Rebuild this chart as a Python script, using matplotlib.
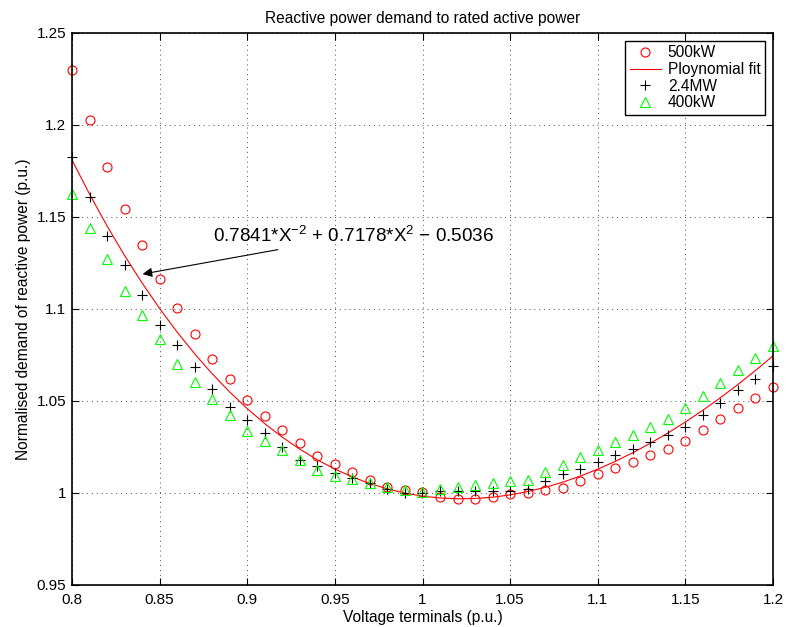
import numpy as np
import matplotlib
matplotlib.use('Agg')
import matplotlib.pyplot as plt
from matplotlib.ticker import FormatStrFormatter

plt.rcParams['font.family'] = ['Liberation Sans', 'DejaVu Sans']
plt.rcParams['mathtext.fontset'] = 'custom'
plt.rcParams['mathtext.rm'] = 'Liberation Sans'

# voltage at terminals (p.u.), 0.80 .. 1.20 in steps of 0.01
voltage = np.round(np.arange(0.80, 1.2001, 0.01), 2)

# 500kW machine (red circles)
q_500kw = [1.2300, 1.2025, 1.1772, 1.1545, 1.1348, 1.1163, 1.1005, 1.0863, 1.0727, 1.0618,
           1.0508, 1.0418, 1.0342, 1.0270, 1.0200, 1.0155, 1.0116, 1.0070, 1.0035, 1.0017,
           1.0004, 0.9980, 0.9967, 0.9969, 0.9980, 0.9992, 1.0000, 1.0014, 1.0029, 1.0063,
           1.0101, 1.0135, 1.0169, 1.0209, 1.0241, 1.0284, 1.0345, 1.0403, 1.0460, 1.0518,
           1.0577]

# 2.4MW machine (black plus)
q_2_4mw = [1.1826, 1.1611, 1.1399, 1.1239, 1.1074, 1.0911, 1.0803, 1.0685, 1.0565, 1.0468,
           1.0398, 1.0328, 1.0252, 1.0179, 1.0147, 1.0107, 1.0080, 1.0053, 1.0020, 0.9998,
           1.0002, 1.0010, 1.0010, 1.0013, 1.0012, 1.0010, 1.0023, 1.0063, 1.0101, 1.0131,
           1.0169, 1.0207, 1.0239, 1.0275, 1.0315, 1.0360, 1.0423, 1.0491, 1.0558, 1.0622,
           1.0689]

# 400kW machine (green triangles)
q_400kw = [1.1627, 1.1442, 1.1270, 1.1098, 1.0966, 1.0837, 1.0703, 1.0603, 1.0513, 1.0426,
           1.0336, 1.0281, 1.0233, 1.0177, 1.0127, 1.0095, 1.0078, 1.0053, 1.0034, 1.0016,
           1.0007, 1.0020, 1.0031, 1.0043, 1.0056, 1.0063, 1.0072, 1.0113, 1.0153, 1.0194,
           1.0234, 1.0275, 1.0315, 1.0356, 1.0403, 1.0464, 1.0529, 1.0599, 1.0666, 1.0734,
           1.0800]

# polynomial fit curve values at the same voltages
q_fit = [1.18095, 1.16244, 1.14517, 1.12908, 1.11414, 1.10027, 1.08745, 1.07564, 1.06479, 1.05487,
         1.04584, 1.03768, 1.03034, 1.02381, 1.01804, 1.01302, 1.00873, 1.00513, 1.00221, 0.99994,
         0.99830, 0.99728, 0.99685, 0.99700, 0.99771, 0.99897, 1.00077, 1.00307, 1.00588, 1.00918,
         1.01296, 1.01720, 1.02189, 1.02703, 1.03259, 1.03859, 1.04498, 1.05179, 1.05899, 1.06658,
         1.07454]

fig = plt.figure(figsize=(7.87, 6.27), dpi=100)
ax = fig.add_axes([72 / 787, 1 - 585 / 627, 701 / 787, 552 / 627])

ax.plot(voltage, q_500kw, 'o', color='red', markerfacecolor='none', markersize=6.5,
        markeredgewidth=0.8, label='500kW', clip_on=False)
ax.plot(voltage, q_fit, '-', color='red', linewidth=0.8, label='Ploynomial fit')
ax.plot(voltage, q_2_4mw, '+', color='black', markersize=7, markeredgewidth=0.8,
        label='2.4MW', clip_on=False)
ax.plot(voltage, q_400kw, '^', color='#00ff00', markerfacecolor='none', markersize=6.5,
        markeredgewidth=0.8, label='400kW', clip_on=False)

ax.annotate(r'0.7841*X$^{\mathregular{-2}}$ + 0.7178*X$^{\mathregular{2}}$ $-$ 0.5036',
            xy=(0.8403, 1.1190), xytext=(0.8805, 1.1397),
            fontsize=13.6, va='center', ha='left',
            arrowprops=dict(arrowstyle='-|>', color='black', lw=0.8,
                            mutation_scale=14, shrinkA=2, shrinkB=0))

ax.set_xlim(0.8, 1.2)
ax.set_ylim(0.95, 1.25)
ax.set_xticks(np.arange(0.8, 1.2001, 0.05))
ax.set_yticks(np.arange(0.95, 1.2501, 0.05))
ax.xaxis.set_major_formatter(FormatStrFormatter('%g'))
ax.yaxis.set_major_formatter(FormatStrFormatter('%g'))
ax.tick_params(direction='in', length=5, width=0.8, labelsize=11,
               top=True, right=True)
ax.tick_params(axis='x', pad=6)
ax.tick_params(axis='y', pad=4)
ax.grid(True, color='0.3', linestyle=(0, (1, 4)), linewidth=0.7)
for s in ax.spines.values():
    s.set_linewidth(1.2)

ax.set_title('Reactive power demand to rated active power', fontsize=11.2, pad=7)
ax.set_xlabel('Voltage terminals (p.u.)', fontsize=11.2, labelpad=2)
ax.set_ylabel('Normalised demand of reactive power (p.u.)', fontsize=11.2, labelpad=4)

leg = ax.legend(loc='upper right', fontsize=11.2, fancybox=False, framealpha=1,
                edgecolor='black', borderpad=0.3, labelspacing=0.1,
                handlelength=2.0, handletextpad=0.45, borderaxespad=0.5)
leg.get_frame().set_linewidth(1.0)
leg.set_zorder(5)

fig.savefig('out.png', dpi=100)
